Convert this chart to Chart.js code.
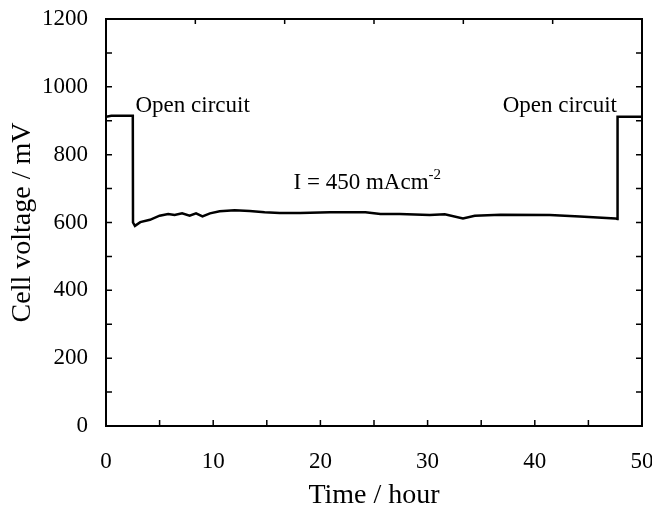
<!DOCTYPE html>
<html>
<head>
<meta charset="utf-8">
<script src="https://cdn.jsdelivr.net/npm/chart.js@4/dist/chart.umd.min.js"></script>
<style>
  html, body { margin: 0; padding: 0; background: #fff; }
  #wrap { width: 652px; height: 511px; }
</style>
</head>
<body>
<div id="wrap"><canvas id="cell-voltage-chart" width="652" height="511"></canvas></div>
<script>
"use strict";

// Time in hours and cell voltage in mV
const timeHours = [0, 0.5, 1.5, 2.5, 2.52, 2.7, 3.2, 4.1, 5.0, 5.8, 6.4, 7.1, 7.8, 8.4, 9.0, 9.7,
    10.6, 12.0, 13.4, 14.8, 16.2, 18.1, 20.9, 24.2, 25.6, 27.4, 30.2, 31.6, 33.3, 34.4,
    36.8, 41.4, 44.2, 47.5, 47.7, 47.72, 50];
const cellVoltage = [912, 915, 915, 915, 600, 590, 601, 608, 620, 625, 622, 627, 620, 627, 618, 627,
    633, 636, 634, 630, 628, 628, 630, 630, 625, 625, 622, 624, 612, 620,
    623, 622, 618, 612, 610, 912, 912];

const xTicks = [0, 10, 20, 30, 40, 50];
const yTicks = [0, 200, 400, 600, 800, 1000, 1200];

// Text notes placed in data units: [text, superscript, hour, mV]
const notes = [
    ["Open circuit", "", 2.75, 943],
    ["Open circuit", "", 37.0, 943],
    ["I = 450 mAcm", "-2", 17.5, 716]
];

const serif = "'Liberation Serif', 'DejaVu Serif', serif";

let points = [];
for (let i = 0; i < timeHours.length; i++) {
    points.push({x: timeHours[i], y: cellVoltage[i]});
}

// Frame, inward ticks and the notes
const framePlugin = {
    id: 'frame',
    afterDraw(chart) {
        const ctx = chart.ctx;
        const a = chart.chartArea;
        const xs = chart.scales.x;
        const ys = chart.scales.y;
        ctx.save();
        ctx.strokeStyle = '#000';
        ctx.lineWidth = 2;
        ctx.strokeRect(a.left, a.top, a.right - a.left, a.bottom - a.top);

        ctx.lineWidth = 1.5;
        ctx.beginPath();
        for (let v = 0; v <= 50; v += 5) {
            let px = xs.getPixelForValue(v);
            ctx.moveTo(px, a.bottom);
            ctx.lineTo(px, a.bottom - 6);
        }
        for (let i = 1; i < 6; i++) {
            let px = xs.getPixelForValue(i * 50 / 6);
            ctx.moveTo(px, a.top);
            ctx.lineTo(px, a.top + 5);
        }
        for (let v = 0; v <= 1200; v += 100) {
            let py = ys.getPixelForValue(v);
            ctx.moveTo(a.left, py);
            ctx.lineTo(a.left + 6, py);
            ctx.moveTo(a.right, py);
            ctx.lineTo(a.right - 6, py);
        }
        ctx.stroke();

        ctx.fillStyle = '#000';
        ctx.textBaseline = 'middle';
        ctx.textAlign = 'left';
        for (let i = 0; i < notes.length; i++) {
            let px = xs.getPixelForValue(notes[i][2]);
            let py = ys.getPixelForValue(notes[i][3]);
            ctx.font = "23px " + serif;
            ctx.fillText(notes[i][0], px, py);
            if (notes[i][1]) {
                let w = ctx.measureText(notes[i][0]).width;
                ctx.font = "15px " + serif;
                ctx.fillText(notes[i][1], px + w, py - 8);
            }
        }
        ctx.restore();
    }
};

let voltageChart = new Chart(document.getElementById("cell-voltage-chart").getContext('2d'), {
    type: 'line',
    data: {
        datasets: [{
            data: points,
            borderColor: '#000',
            borderWidth: 2.5,
            pointRadius: 0,
            tension: 0,
            fill: false
        }]
    },
    options: {
        responsive: false,
        animation: false,
        layout: {
            padding: {top: 19, right: 10, left: 0, bottom: 0}
        },
        plugins: {
            legend: {display: false},
            tooltip: {enabled: false}
        },
        scales: {
            x: {
                type: 'linear',
                min: 0,
                max: 50,
                afterBuildTicks: (scale) => { scale.ticks = xTicks.map(v => ({value: v})); },
                afterFit: (scale) => {
                    scale.height = 85;
                    scale.paddingLeft = 0;
                    scale.paddingRight = 0;
                },
                grid: {display: false, drawTicks: false},
                border: {display: false},
                ticks: {
                    color: '#000',
                    padding: 22,
                    maxRotation: 0,
                    callback: (v) => String(v),
                    font: {family: serif, size: 23}
                },
                title: {
                    display: true,
                    text: 'Time / hour',
                    color: '#000',
                    padding: {top: 0, bottom: 0},
                    font: {family: serif, size: 28, lineHeight: 1.1}
                }
            },
            y: {
                min: 0,
                max: 1200,
                afterBuildTicks: (scale) => { scale.ticks = yTicks.map(v => ({value: v})); },
                afterFit: (scale) => {
                    scale.width = 106;
                    scale.paddingTop = 0;
                    scale.paddingBottom = 0;
                },
                grid: {display: false, drawTicks: false},
                border: {display: false},
                ticks: {
                    color: '#000',
                    padding: 18,
                    callback: (v) => String(v),
                    font: {family: serif, size: 23}
                },
                title: {
                    display: true,
                    text: 'Cell voltage / mV',
                    color: '#000',
                    padding: {top: 7, bottom: 0},
                    font: {family: serif, size: 28, lineHeight: 1.1}
                }
            }
        }
    },
    plugins: [framePlugin]
});
</script>
</body>
</html>
